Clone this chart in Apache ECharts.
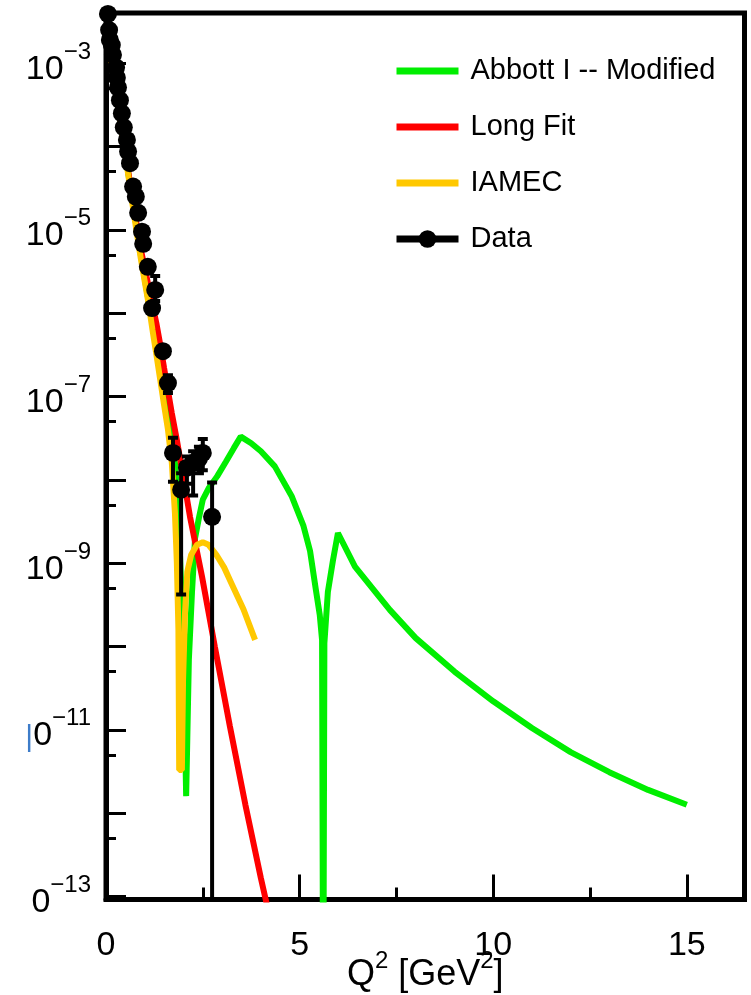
<!DOCTYPE html>
<html><head><meta charset="utf-8">
<script src="https://cdn.jsdelivr.net/npm/echarts@6/dist/echarts.min.js"></script>
<style>html,body{margin:0;padding:0;background:#fff}#c{width:751px;height:995px}</style>
</head><body><div id="c"></div>
<script>
// ---- data ----
const abbottQ2 = [0,0.1,0.2,0.3,0.4,0.5,0.6,0.7,0.8,0.9,1.0,1.1,1.2,1.3,1.4,1.5,1.6,1.7,1.78,1.85,1.91,1.98,2.03,2.07,2.1,2.14,2.22,2.3,2.4,2.5,2.65,2.87,3.1,3.3,3.48,3.75,4.0,4.36,4.8,5.1,5.27,5.42,5.52,5.58,5.61,5.64,5.73,5.86,5.99,6.43,7.33,8,9,10,11,12,13,14,15];
const abbottVal = [2.8e-3,1.35e-3,6.6e-4,3.2e-4,1.6e-4,8.1e-5,4.0e-5,2.0e-5,1.0e-5,5.0e-6,2.6e-6,1.4e-6,7.6e-7,4.0e-7,2.1e-7,1.1e-7,6.0e-8,3.2e-8,1.6e-8,5.6e-9,1.3e-9,1.6e-10,1.6e-11,1.6e-12,7.9e-12,6.9e-11,4.4e-10,2.0e-9,3.5e-9,5.8e-9,7.9e-9,1.1e-8,1.66e-8,2.4e-8,3.3e-8,2.75e-8,2.2e-8,1.45e-8,6.3e-9,2.8e-9,1.4e-9,4.8e-10,2.4e-10,1.2e-10,1.0e-15,1.1e-10,4.5e-10,1.07e-9,2.3e-9,9.1e-10,2.75e-10,1.26e-10,5.0e-11,2.2e-11,1.05e-11,5.4e-12,3.1e-12,1.9e-12,1.26e-12];

const longFitQ2 = [0,0.1,0.2,0.3,0.4,0.5,0.6,0.7,0.8,0.9,1.0,1.1,1.2,1.3,1.4,1.5,1.6,1.7,1.83,2.0,2.17,2.48,2.81,3.2,3.6,4.0,4.3];
const longFitVal = [2.8e-3,1.35e-3,6.6e-4,3.2e-4,1.6e-4,8.3e-5,4.2e-5,2.1e-5,1.1e-5,5.8e-6,3.5e-6,2.1e-6,1.26e-6,7.6e-7,4.2e-7,2.2e-7,1.17e-7,6.3e-8,3.0e-8,1.05e-8,3.6e-9,6.9e-10,1.0e-10,1.1e-11,1.26e-12,1.66e-13,4.0e-14];

const iamecQ2 = [0,0.1,0.2,0.3,0.4,0.5,0.6,0.7,0.8,0.9,1.0,1.1,1.2,1.3,1.4,1.5,1.6,1.7,1.78,1.83,1.87,1.89,1.96,1.99,2.04,2.1,2.2,2.35,2.5,2.65,2.85,3.05,3.25,3.55,3.85];
const iamecVal = [2.8e-3,1.35e-3,6.6e-4,3.2e-4,1.6e-4,7.9e-5,3.8e-5,1.8e-5,8.9e-6,4.5e-6,2.4e-6,1.3e-6,6.3e-7,3.2e-7,1.6e-7,7.9e-8,4.0e-8,1.6e-8,4.0e-9,1.0e-9,1.6e-10,3.3e-12,3.3e-12,4.0e-11,2.5e-10,7.9e-10,1.26e-9,1.66e-9,1.78e-9,1.66e-9,1.26e-9,8.9e-10,5.6e-10,2.8e-10,1.2e-10];

const dataQ2  = [0.05,0.08,0.10,0.15,0.18,0.26,0.28,0.31,0.36,0.41,0.46,0.54,0.57,0.62,0.70,0.77,0.83,0.93,0.96,1.08,1.27,1.19,1.47,1.60,1.73,1.94,2.09,2.25,2.40,2.50,2.74];
const dataVal = [3.9e-3,2.5e-3,1.9e-3,1.65e-3,1.26e-3,8.9e-4,6.7e-4,5.1e-4,3.6e-4,2.5e-4,1.7e-4,1.2e-4,8.7e-5,6.3e-5,3.3e-5,2.5e-5,1.6e-5,9.5e-6,6.8e-6,3.6e-6,1.9e-6,1.15e-6,3.5e-7,1.45e-7,2.1e-8,7.6e-9,1.4e-8,1.6e-8,1.8e-8,2.1e-8,3.6e-9];
const dataErrLow  = [null,null,null,null,null,null,null,null,null,null,null,null,null,null,null,null,null,null,null,null,1.4e-6,null,null,1.1e-7,9.5e-9,4.2e-10,9.0e-9,6.5e-9,1.2e-8,1.3e-8,1e-15];
const dataErrHigh = [null,null,null,null,null,null,null,null,null,null,null,null,null,null,null,null,null,null,null,null,2.8e-6,null,null,1.8e-7,3.2e-8,1.2e-8,1.9e-8,2.2e-8,2.5e-8,3.1e-8,9.3e-9];

const xMajorTicks = [0,5,10,15];
const xMinorTicks = [2.5,7.5,12.5];
const yMajorTicks = [1e-13,1e-12,1e-11,1e-10,1e-9,1e-8,1e-7,1e-6,1e-5,1e-4,1e-3];
const yMinorTicks = [5e-13,5e-12,5e-11,5e-10,5e-9,5e-8,5e-7,5e-6,5e-5,5e-4];
const yLabelValues = [1e-3,1e-5,1e-7,1e-9,1e-11,1e-13];
const yLabelBase   = ['10','10','10','10','|0','0'];
const yLabelExp    = ['−3','−5','−7','−9','−11','−13'];

const xMin = 0, xMax = 16.49;
const yMin = 9.2e-14, yMax = 4.0e-3;

// ---- chart ----
const FONT = '"Liberation Sans", Arial, sans-serif';
const zip = (a, b) => a.map((v, i) => [v, b[i]]);
const errData = [];
dataQ2.forEach((q, i) => { if (dataErrLow[i] != null) errData.push([q, dataErrLow[i], dataErrHigh[i]]); });

function yLabelFmt(v) {
  const e = Math.round(Math.log10(v));
  for (let i = 0; i < yLabelValues.length; i++) {
    if (Math.round(Math.log10(yLabelValues[i])) === e) {
      const base = yLabelBase[i];
      const b = base.charAt(0) === '|' ? '{bar||}{b|' + base.slice(1) + '}' : '{b|' + base + '}';
      return b + '{s|' + yLabelExp[i] + '}';
    }
  }
  return '';
}

const chart = echarts.init(document.getElementById('c'), null, {renderer: 'canvas'});
const axisBase = {
  splitLine: {show: false}, minorTick: {show: false}, minorSplitLine: {show: false}
};
chart.setOption({
  animation: false,
  backgroundColor: '#fff',
  grid: {left: 106, top: 13, right: 6.5, bottom: 95.5, show: true, borderColor: '#000', borderWidth: 5,
         containLabel: false, outerBoundsMode: 'none'},
  legend: {
    data: [
      {name: 'Abbott I -- Modified', itemStyle: {opacity: 0}},
      {name: 'Long Fit', itemStyle: {opacity: 0}},
      {name: 'IAMEC', itemStyle: {opacity: 0}},
      {name: 'Data'}
    ],
    orient: 'vertical', left: 393, top: 56, padding: 0,
    itemWidth: 62, itemHeight: 22, itemGap: 26,
    selectedMode: false,
    lineStyle: {width: 7, opacity: 1},
    textStyle: {fontSize: 29, color: '#000', fontFamily: FONT, lineHeight: 30, padding: [0, 0, 0, 7]}
  },
  xAxis: [
    Object.assign({}, axisBase, {
      type: 'value', min: xMin, max: xMax, position: 'bottom',
      axisLine: {show: true, onZero: false, lineStyle: {color: '#000', width: 5}},
      axisTick: {show: true, inside: true, length: 25, customValues: xMajorTicks, lineStyle: {color: '#000', width: 3}},
      axisLabel: {show: true, customValues: xMajorTicks, margin: 29, fontSize: 34, color: '#000', fontFamily: FONT},
      name: '{b|Q}{s|2}{b| [GeV}{s|2}{b|]}',
      nameLocation: 'middle', nameGap: 50, nameMoveOverlap: false,
      nameTextStyle: {
        fontFamily: FONT, color: '#000',
        rich: {
          b: {fontSize: 36, lineHeight: 44, verticalAlign: 'bottom', fontFamily: FONT, color: '#000'},
          s: {fontSize: 24, lineHeight: 24, verticalAlign: 'top', fontFamily: FONT, color: '#000'}
        }
      }
    }),
    Object.assign({}, axisBase, {
      type: 'value', min: xMin, max: xMax, position: 'bottom',
      axisLine: {show: false},
      axisTick: {show: true, inside: true, length: 12, customValues: xMinorTicks, lineStyle: {color: '#000', width: 3}},
      axisLabel: {show: false}
    })
  ],
  yAxis: [
    Object.assign({}, axisBase, {
      type: 'log', logBase: 10, min: yMin, max: yMax, position: 'left',
      axisLine: {show: true, onZero: false, lineStyle: {color: '#000', width: 5}},
      axisTick: {show: true, inside: true, length: 20, customValues: yMajorTicks, lineStyle: {color: '#000', width: 3}},
      axisLabel: {
        show: true, customValues: yLabelValues, margin: 15,
        formatter: yLabelFmt, fontFamily: FONT, color: '#000',
        rich: {
          b: {fontSize: 34, lineHeight: 46, verticalAlign: 'bottom', fontFamily: FONT, color: '#000'},
          bar: {fontSize: 30, lineHeight: 46, verticalAlign: 'bottom', fontFamily: FONT, color: '#3d7cc9'},
          s: {fontSize: 24, lineHeight: 24, verticalAlign: 'top', fontFamily: FONT, color: '#000'}
        }
      }
    }),
    Object.assign({}, axisBase, {
      type: 'log', logBase: 10, min: yMin, max: yMax, position: 'left',
      axisLine: {show: false},
      axisTick: {show: true, inside: true, length: 10, customValues: yMinorTicks, lineStyle: {color: '#000', width: 3}},
      axisLabel: {show: false}
    })
  ],
  series: [
    {name: 'Abbott I -- Modified', type: 'line', data: zip(abbottQ2, abbottVal), symbol: 'none', clip: true, z: 2,
     lineStyle: {color: '#00ee00', width: 6}, itemStyle: {color: '#00ee00'}},
    {name: 'Long Fit', type: 'line', data: zip(longFitQ2, longFitVal), symbol: 'none', clip: true, z: 3,
     lineStyle: {color: '#ff0000', width: 6}, itemStyle: {color: '#ff0000'}},
    {name: 'IAMEC', type: 'line', data: zip(iamecQ2, iamecVal), symbol: 'none', clip: true, z: 4,
     lineStyle: {color: '#ffc800', width: 6}, itemStyle: {color: '#ffc800'}},
    {name: 'errors', type: 'custom', data: errData, z: 5, clip: true,
     encode: {x: 0, y: [1, 2]},
     renderItem: function (params, api) {
       const x = api.value(0), lo = api.value(1), hi = api.value(2);
       const top = api.coord([x, hi]);
       const bot = api.coord([x, Math.max(lo, yMin)]);
       const cw = 5;
       const kids = [
         {type: 'line', shape: {x1: top[0], y1: top[1], x2: bot[0], y2: bot[1]}, style: {stroke: '#000', lineWidth: 4}},
         {type: 'line', shape: {x1: top[0] - cw, y1: top[1], x2: top[0] + cw, y2: top[1]}, style: {stroke: '#000', lineWidth: 4}}
       ];
       if (lo >= yMin) kids.push({type: 'line', shape: {x1: bot[0] - cw, y1: bot[1], x2: bot[0] + cw, y2: bot[1]}, style: {stroke: '#000', lineWidth: 4}});
       return {type: 'group', children: kids};
     }},
    {name: 'Data', type: 'line', data: zip(dataQ2, dataVal), symbol: 'circle', symbolSize: 18, clip: true, z: 6,
     lineStyle: {color: '#000', width: 4, opacity: 0}, itemStyle: {color: '#000'}}
  ]
});
</script>
</body></html>
